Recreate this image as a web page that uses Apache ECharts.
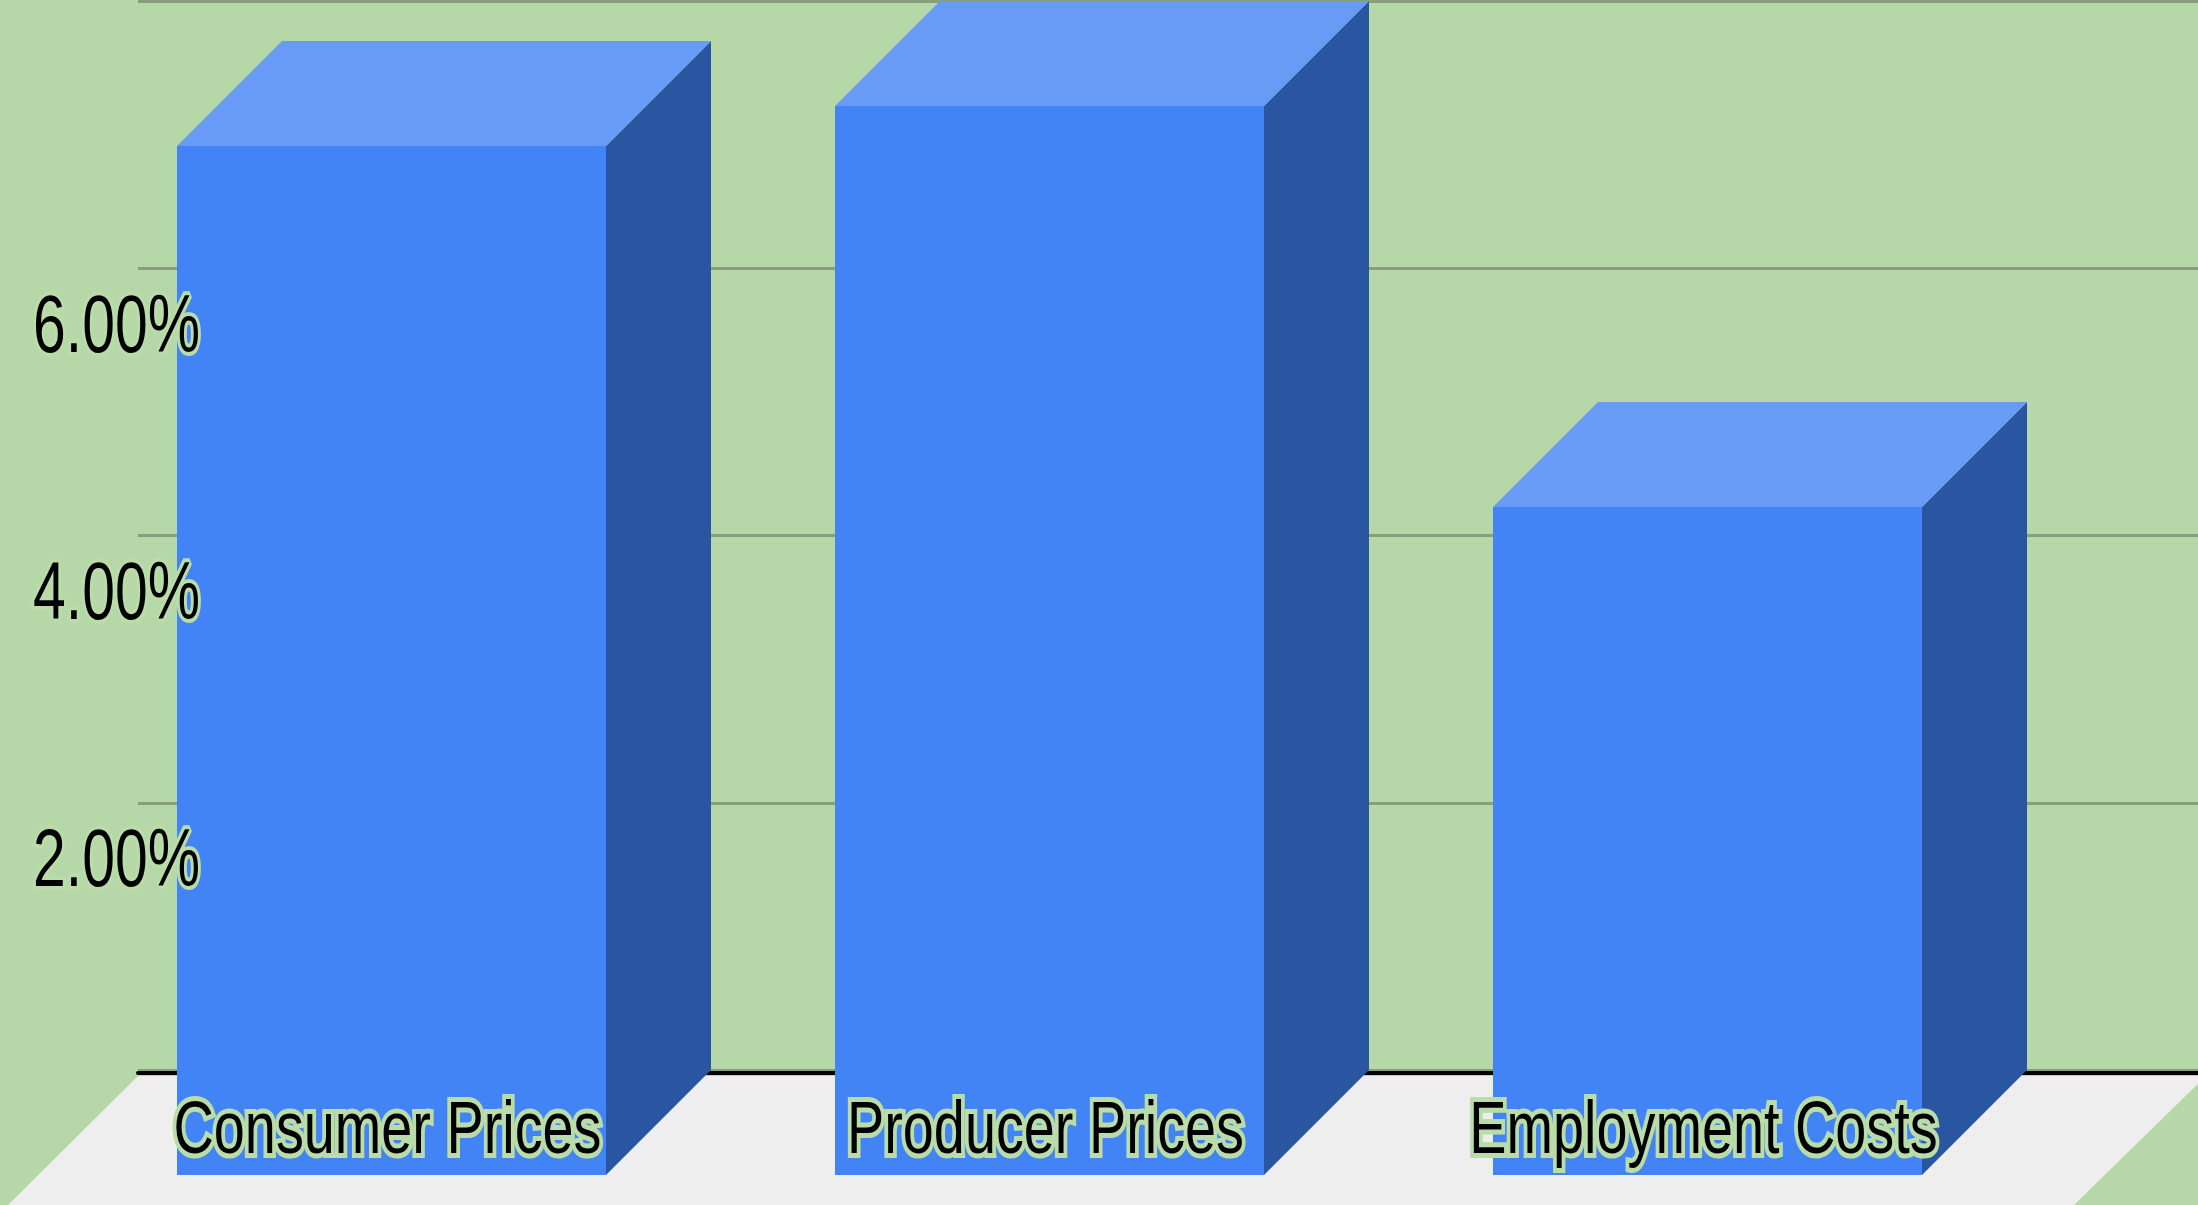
<!DOCTYPE html>
<html>
<head>
<meta charset="utf-8">
<style>html,body{margin:0;padding:0;background:#b6d7a8}#c{width:2198px;height:1205px}canvas{filter:blur(0.7px)}</style>
<script src="https://cdn.jsdelivr.net/npm/echarts@6/dist/echarts.min.js"></script>
</head>
<body>
<div id="c"></div>
<script>
const categories = ['Consumer Prices', 'Producer Prices', 'Employment Costs'];
const values = [7.7, 8.0, 5.0];
const tickValues = [2, 4, 6];
const tickLabels = ['2.00%', '4.00%', '6.00%'];

const DEPTH = 105;
const BAR_RATIO = 429 / 658;
const FONT = '"Liberation Sans",Arial,sans-serif';
const HALO = '#b9dca9';

const chart = echarts.init(document.getElementById('c'));

function renderBox(params, api) {
  const p = api.coord([api.value(0), api.value(1)]);
  const base = api.coord([api.value(0), 0]);
  const w = api.size([1, 0])[0] * BAR_RATIO;
  const l = p[0] - w / 2, r = p[0] + w / 2, t = p[1], b = base[1];
  return {
    type: 'group',
    children: [
      { type: 'polygon', shape: { points: [[r, t], [r + DEPTH, t - DEPTH], [r + DEPTH, b - DEPTH], [r, b]] }, style: { fill: '#2a56a1' } },
      { type: 'polygon', shape: { points: [[l, t], [l + DEPTH, t - DEPTH], [r + DEPTH, t - DEPTH], [r, t]] }, style: { fill: '#679bf6' } },
      { type: 'rect', shape: { x: l, y: t, width: w, height: b - t }, style: { fill: '#4284f5' } }
    ]
  };
}

function condensedText(x, y, text, size, scaleX, align, halo) {
  return {
    type: 'text', x: x, y: y, scaleX: scaleX,
    style: {
      text: text, font: size + 'px ' + FONT, fill: '#000',
      stroke: HALO, lineWidth: halo, align: align, verticalAlign: 'middle'
    }
  };
}

function renderCategoryLabel(params, api) {
  const base = api.coord([api.value(0), 0]);
  return condensedText(base[0] - 4, base[1] - 43, categories[params.dataIndex], 75, 0.744, 'center', 10);
}

function renderTickLabel(params, api) {
  const p = api.coord([0, api.value(0)]);
  return condensedText(p[0], p[1], tickLabels[params.dataIndex], 81, 0.727, 'right', 8);
}

chart.setOption({
  animation: false,
  backgroundColor: '#b6d7a8',
  graphic: [{
    type: 'polygon', z: -10, silent: true,
    shape: { points: [[138, 1076], [2206, 1076], [2072, 1207], [6, 1207]] },
    style: { fill: '#eeeeee' }
  }],
  grid: [
    { left: 62.5, width: 1974, top: 106, height: 1069 },
    { left: 138, width: 2068, top: 1, height: 1069 },
    { left: 195, width: 10, top: 62, height: 1069 }
  ],
  xAxis: [
    { gridIndex: 0, type: 'category', data: categories, show: false },
    {
      gridIndex: 1, type: 'category', data: categories, offset: 3,
      axisLine: { show: true, onZero: false, lineStyle: { color: '#000', width: 4 } },
      axisTick: { show: false }, axisLabel: { show: false }
    },
    { gridIndex: 2, type: 'category', data: ['ticks'], show: false }
  ],
  yAxis: [
    { gridIndex: 0, type: 'value', min: 0, max: 8, interval: 2, show: false },
    {
      gridIndex: 1, type: 'value', min: 0, max: 8, interval: 2,
      axisLine: { show: false }, axisTick: { show: false }, axisLabel: { show: false },
      splitLine: { show: true, lineStyle: { color: '#889e7c', width: 3 } }
    },
    { gridIndex: 2, type: 'value', min: 0, max: 8, interval: 2, show: false }
  ],
  series: [
    {
      type: 'custom', xAxisIndex: 0, yAxisIndex: 0, z: 2, clip: false,
      data: categories.map((c, i) => [i, values[i]]),
      encode: { x: 0, y: 1 },
      renderItem: renderBox
    },
    {
      type: 'custom', xAxisIndex: 0, yAxisIndex: 0, z: 5, clip: false,
      data: categories.map((c, i) => [i, 0]),
      encode: { x: 0, y: 1 },
      renderItem: renderCategoryLabel
    },
    {
      type: 'custom', xAxisIndex: 2, yAxisIndex: 2, z: 5, clip: false,
      data: tickValues.map(v => [v]),
      encode: { y: 0 },
      renderItem: renderTickLabel
    }
  ]
});
</script>
</body>
</html>
